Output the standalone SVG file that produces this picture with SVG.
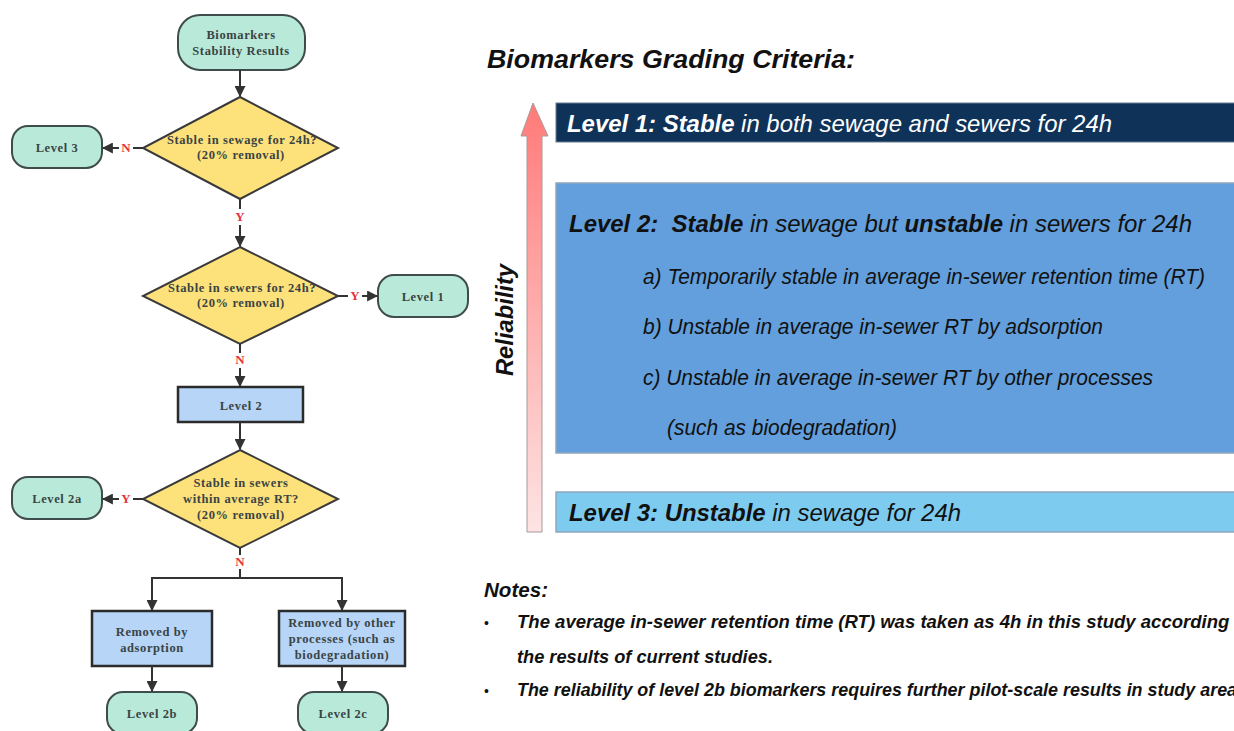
<svg xmlns="http://www.w3.org/2000/svg" width="1234" height="731" viewBox="0 0 1234 731">
<defs>
<marker id="ah" viewBox="0 0 10 10" refX="9" refY="5" markerWidth="5.5" markerHeight="5.5" orient="auto" markerUnits="strokeWidth">
<path d="M0,0 L10,5 L0,10 z" fill="#333"/>
</marker>
<linearGradient id="rel" x1="0" y1="0" x2="0" y2="1">
<stop offset="0" stop-color="#ff7a78"/>
<stop offset="1" stop-color="#fde4e4"/>
</linearGradient>
<style>
.term{fill:#b9ead9;stroke:#3f4c4c;stroke-width:2}
.dec{fill:#fde27c;stroke:#3a3a3a;stroke-width:2}
.proc{fill:#b6d5f7;stroke:#2b2b2b;stroke-width:2.5}
.ft{font-family:"Liberation Serif",serif;font-weight:bold;font-size:12.5px;fill:#3a4444;text-anchor:middle;letter-spacing:0.6px}
.yn{font-family:"Liberation Serif",serif;font-weight:bold;font-size:13px;fill:#e8333c;text-anchor:middle}
.con{stroke:#333;stroke-width:2;fill:none}
.ar{marker-end:url(#ah)}
.rt{font-family:"Liberation Sans",Arial,sans-serif;font-style:italic}
.b{font-weight:bold}
</style>
</defs>
<rect width="1234" height="731" fill="#fff"/>

<!-- Flowchart nodes -->
<g id="start">
<rect class="term" x="178" y="15" width="127" height="55" rx="22"/>
<text class="ft" x="241" y="39">Biomarkers</text>
<text class="ft" x="241" y="55">Stability Results</text>
</g>
<g id="d1">
<polygon class="dec" points="240,97 338,148 240,199 143,148"/>
<text class="ft" x="242" y="144">Stable in sewage for 24h?</text>
<text class="ft" x="241" y="159">(20% removal)</text>
</g>
<g id="level3node">
<rect class="term" x="12" y="126" width="90" height="42" rx="16"/>
<text class="ft" x="57" y="152">Level 3</text>
</g>
<g id="d2">
<polygon class="dec" points="240,247 338,296 240,344 143,296"/>
<text class="ft" x="242" y="292">Stable in sewers for 24h?</text>
<text class="ft" x="241" y="307">(20% removal)</text>
</g>
<g id="level1node">
<rect class="term" x="378" y="275" width="90" height="42" rx="16"/>
<text class="ft" x="423" y="301">Level 1</text>
</g>
<g id="level2node">
<rect class="proc" x="178" y="387" width="125" height="35"/>
<text class="ft" x="241" y="410">Level 2</text>
</g>
<g id="d3">
<polygon class="dec" points="240,450 338,499 240,548 143,499"/>
<text class="ft" x="241" y="487">Stable in sewers</text>
<text class="ft" x="241" y="503">within average RT?</text>
<text class="ft" x="241" y="519">(20% removal)</text>
</g>
<g id="level2anode">
<rect class="term" x="12" y="477" width="90" height="42" rx="16"/>
<text class="ft" x="57" y="503">Level 2a</text>
</g>
<g id="adsorption">
<rect class="proc" x="92" y="611" width="120" height="55"/>
<text class="ft" x="152" y="636">Removed by</text>
<text class="ft" x="152" y="652">adsorption</text>
</g>
<g id="otherproc">
<rect class="proc" x="279" y="611" width="126" height="55"/>
<text class="ft" x="342" y="627">Removed by other</text>
<text class="ft" x="342" y="643">processes (such as</text>
<text class="ft" x="342" y="659">biodegradation)</text>
</g>
<g id="level2bnode">
<rect class="term" x="107" y="692" width="90" height="42" rx="16"/>
<text class="ft" x="152" y="718">Level 2b</text>
</g>
<g id="level2cnode">
<rect class="term" x="298" y="692" width="90" height="42" rx="16"/>
<text class="ft" x="343" y="718">Level 2c</text>
</g>

<!-- Connectors -->
<g id="connectors">
<line class="con ar" x1="240" y1="70" x2="240" y2="96"/>
<line class="con" x1="143" y1="148" x2="133" y2="148"/>
<line class="con ar" x1="119" y1="148" x2="103" y2="148"/>
<text class="yn" x="126" y="152">N</text>
<line class="con" x1="240" y1="199" x2="240" y2="209"/>
<text class="yn" x="240" y="221">Y</text>
<line class="con ar" x1="240" y1="225" x2="240" y2="246"/>
<line class="con" x1="338" y1="296" x2="348" y2="296"/>
<text class="yn" x="355" y="300">Y</text>
<line class="con ar" x1="362" y1="296" x2="377" y2="296"/>
<line class="con" x1="240" y1="344" x2="240" y2="353"/>
<text class="yn" x="240" y="364">N</text>
<line class="con ar" x1="240" y1="368" x2="240" y2="386"/>
<line class="con ar" x1="240" y1="422" x2="240" y2="449"/>
<line class="con" x1="143" y1="499" x2="133" y2="499"/>
<text class="yn" x="126" y="503">Y</text>
<line class="con ar" x1="119" y1="499" x2="103" y2="499"/>
<line class="con" x1="240" y1="548" x2="240" y2="555"/>
<text class="yn" x="240" y="566">N</text>
<polyline class="con" points="240,569 240,578"/>
<polyline class="con ar" points="241,578 152,578 152,610"/>
<polyline class="con ar" points="239,578 342,578 342,610"/>
<line class="con ar" x1="152" y1="666" x2="152" y2="691"/>
<line class="con ar" x1="342" y1="666" x2="342" y2="691"/>
</g>

<!-- Right panel -->
<g id="grading">
<text class="rt b" x="487" y="68" font-size="25" fill="#111" textLength="368" lengthAdjust="spacingAndGlyphs">Biomarkers Grading Criteria:</text>
<g id="reliability-arrow">
<polygon points="533,103 548,136 542,136 542,532 527,532 527,136 521,136" fill="url(#rel)" stroke="#a99" stroke-width="1"/>
</g>
<text class="rt b" font-size="23" fill="#111" transform="translate(513,320) rotate(-90)" text-anchor="middle" textLength="112" lengthAdjust="spacingAndGlyphs">Reliability</text>
<g id="level1bar">
<rect x="556" y="103" width="680" height="39" fill="#0f3358" stroke="#6b7d90" stroke-width="1"/>
<text class="rt" x="567" y="132" font-size="24" fill="#fff" textLength="545" lengthAdjust="spacingAndGlyphs"><tspan class="b">Level 1: Stable</tspan> in both sewage and sewers for 24h</text>
</g>
<g id="level2box">
<rect x="556" y="183" width="680" height="270" fill="#629fdc" stroke="#8fa6bd" stroke-width="1.5"/>
<text class="rt" x="569" y="232" font-size="24" fill="#111" textLength="623" lengthAdjust="spacingAndGlyphs" xml:space="preserve"><tspan class="b">Level 2:  Stable</tspan> in sewage but <tspan class="b">unstable</tspan> in sewers for 24h</text>
<text class="rt" x="643" y="284" font-size="22" fill="#111" textLength="562" lengthAdjust="spacingAndGlyphs">a) Temporarily stable in average in-sewer retention time (RT)</text>
<text class="rt" x="643" y="334" font-size="22" fill="#111" textLength="460" lengthAdjust="spacingAndGlyphs">b) Unstable in average in-sewer RT by adsorption</text>
<text class="rt" x="643" y="385" font-size="22" fill="#111" textLength="510" lengthAdjust="spacingAndGlyphs">c) Unstable in average in-sewer RT by other processes</text>
<text class="rt" x="667" y="435" font-size="22" fill="#111" textLength="230" lengthAdjust="spacingAndGlyphs">(such as biodegradation)</text>
</g>
<g id="level3bar">
<rect x="556" y="492" width="680" height="40" fill="#7ecbf0" stroke="#8fa6bd" stroke-width="1.5"/>
<text class="rt" x="569" y="521" font-size="24" fill="#111" textLength="392" lengthAdjust="spacingAndGlyphs"><tspan class="b">Level 3: Unstable</tspan> in sewage for 24h</text>
</g>
<g id="notes">
<text class="rt b" x="484" y="597" font-size="20" fill="#111" textLength="64" lengthAdjust="spacingAndGlyphs">Notes:</text>
<text x="484" y="628" font-family="Liberation Sans, sans-serif" font-size="14" fill="#111">•</text>
<text class="rt b" x="517" y="628" font-size="18" fill="#111" textLength="735" lengthAdjust="spacingAndGlyphs">The average in-sewer retention time (RT) was taken as 4h in this study according to</text>
<text class="rt b" x="517" y="663" font-size="18" fill="#111" textLength="256" lengthAdjust="spacingAndGlyphs">the results of current studies.</text>
<text x="484" y="696" font-family="Liberation Sans, sans-serif" font-size="14" fill="#111">•</text>
<text class="rt b" x="517" y="696" font-size="18" fill="#111" textLength="730" lengthAdjust="spacingAndGlyphs">The reliability of level 2b biomarkers requires further pilot-scale results in study areas</text>
</g>
</g>
</svg>
